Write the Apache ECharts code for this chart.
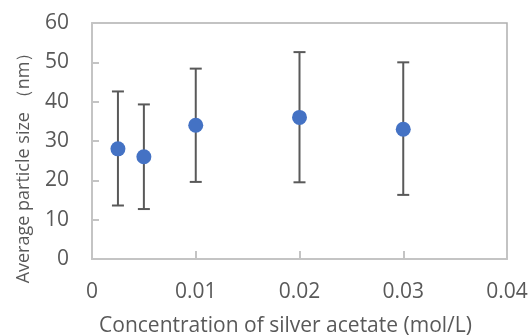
<!DOCTYPE html>
<html><head><meta charset="utf-8">
<script src="https://cdn.jsdelivr.net/npm/echarts@6/dist/echarts.min.js"></script>
<style>html,body{margin:0;padding:0;background:#fff}#c{width:530px;height:336px}</style>
</head><body><div id="c"></div>
<script>
const concentrations = [0.0025, 0.005, 0.01, 0.02, 0.03];
const meanSize = [28, 26, 34, 36, 33];
const upperErr = [42.6, 39.3, 48.4, 52.6, 50];
const lowerErr = [13.6, 12.7, 19.6, 19.5, 16.3];
const xTicks = [0, 0.01, 0.02, 0.03, 0.04];
const yTicks = [0, 10, 20, 30, 40, 50, 60];

const pts = concentrations.map((c, i) => [c, meanSize[i]]);
const errs = concentrations.map((c, i) => [c, lowerErr[i], upperErr[i]]);
const font = '"Open Sans", sans-serif';
const chart = echarts.init(document.getElementById('c'), null, {renderer: 'canvas'});
chart.setOption({
  animation: false,
  grid: {left: 92, top: 23, right: 23, bottom: 77, containLabel: false, outerBoundsMode: 'none', show: true, borderColor: '#b0b0b0', borderWidth: 1.5, backgroundColor: 'transparent'},
  xAxis: {
    type: 'value', min: 0, max: 0.04, interval: 0.01,
    name: 'Concentration of silver acetate (mol/L)', nameLocation: 'middle', nameGap: 57,
    nameTextStyle: {fontFamily: font, fontSize: 21, color: '#595959', padding: [0, 28, 0, 0]},
    axisLine: {show: true, onZero: false, lineStyle: {color: '#c4c4c4', width: 2}},
    axisTick: {show: true, inside: true, length: 8, lineStyle: {color: '#c4c4c4', width: 2}},
    axisLabel: {fontFamily: font, fontSize: 21, color: '#595959', margin: 23, formatter: v => xTicks.includes(v) ? String(v) : ''},
    splitLine: {show: false}
  },
  yAxis: {
    type: 'value', min: 0, max: 60, interval: 10,
    name: 'Average particle size （nm）', nameLocation: 'middle', nameGap: 59,
    nameTextStyle: {fontFamily: font, fontSize: 18, color: '#595959', padding: [0, 45, 0, 0]},
    axisLine: {show: true, lineStyle: {color: '#c4c4c4', width: 2}},
    axisTick: {show: true, inside: true, length: 7, lineStyle: {color: '#c4c4c4', width: 2}},
    axisLabel: {fontFamily: font, fontSize: 21, color: '#595959', margin: 23, formatter: v => yTicks.includes(v) ? String(v) : ''},
    splitLine: {show: false}
  },
  series: [
    {
      type: 'custom',
      data: errs,
      z: 2,
      renderItem: function (params, api) {
        const x = api.value(0);
        const lo = api.coord([x, api.value(1)]);
        const hi = api.coord([x, api.value(2)]);
        const w = 6;
        const st = {stroke: '#595959', lineWidth: 2};
        return {type: 'group', children: [
          {type: 'line', shape: {x1: lo[0], y1: lo[1], x2: hi[0], y2: hi[1]}, style: st},
          {type: 'line', shape: {x1: lo[0] - w, y1: lo[1], x2: lo[0] + w, y2: lo[1]}, style: st},
          {type: 'line', shape: {x1: hi[0] - w, y1: hi[1], x2: hi[0] + w, y2: hi[1]}, style: st}
        ]};
      }
    },
    {
      type: 'scatter', data: pts, symbol: 'circle', symbolSize: 15, z: 3,
      itemStyle: {color: '#4472C4', opacity: 1}
    }
  ]
});
</script></body></html>
